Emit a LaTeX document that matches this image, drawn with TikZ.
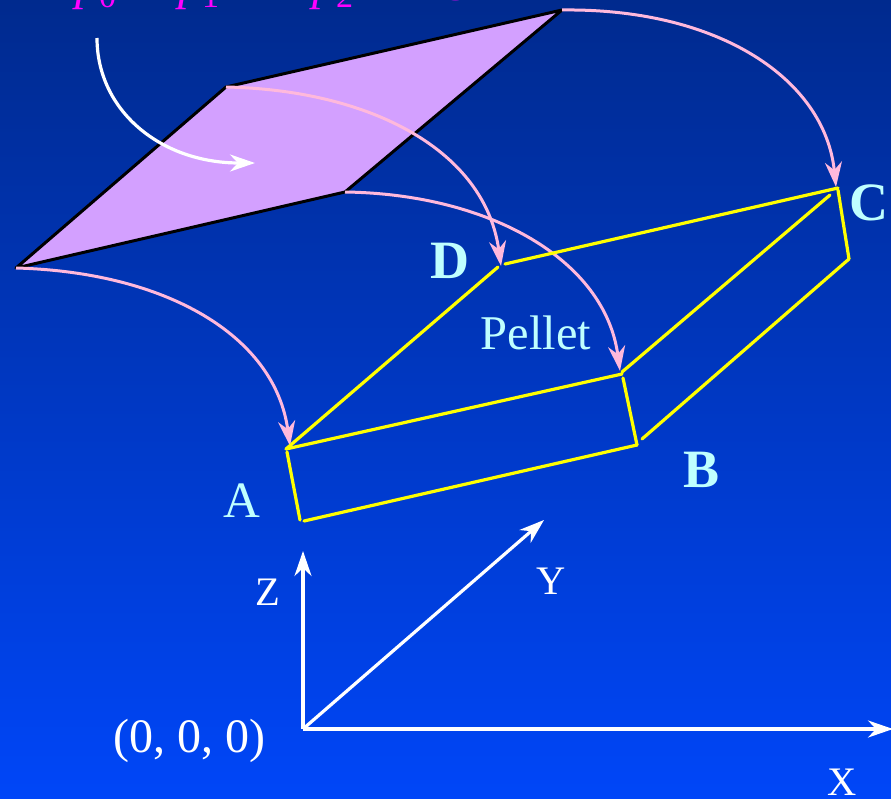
\documentclass[tikz,border=0pt]{standalone}
\usepackage{fontspec}
\setmainfont{Liberation Serif}
\usepackage{tikz}
\usetikzlibrary{arrows.meta,positioning,calc}
\usepackage{xcolor}
\definecolor{bgtop}{HTML}{002A8E}
\definecolor{bgbottom}{HTML}{0046F8}
\definecolor{platefill}{HTML}{D3A0FF}
\definecolor{pelletpink}{HTML}{FFB9DC}
\definecolor{pelletcyan}{HTML}{BFFFFF}
\definecolor{pelletyellow}{HTML}{FFFF00}
\definecolor{beammagenta}{HTML}{FF00FF}
\newcommand{\beamsub}[1]{\textit{p}\raisebox{-8pt}{\fontsize{34}{36}\selectfont #1}}
\tikzset{
  tipbig/.style={-{Stealth[length=25pt,width=17pt,inset=8pt]}},
  hitline/.style={line width=3pt,color=pelletpink,tipbig},
  edgeline/.style={line width=3.2pt,color=pelletyellow,line cap=round},
  axisline/.style={line width=3.2pt,color=white,tipbig},
  cornerlabel/.style={font=\fontsize{54}{56}\selectfont\bfseries,text=pelletcyan,inner sep=0pt},
  pelletlabel/.style={font=\fontsize{48.5}{50}\selectfont,text=pelletcyan,inner sep=0pt},
  axislabel/.style={font=\fontsize{40.5}{42}\selectfont,text=white,inner sep=0pt},
  beamlabel/.style={font=\fontsize{48}{50}\selectfont,text=beammagenta,inner sep=0pt,anchor=base west}
}
\begin{document}
\begin{tikzpicture}[x=1pt,y=-1pt]
\shade[top color=bgtop,bottom color=bgbottom] (0,0) rectangle (891,798);
\useasboundingbox (0,0) rectangle (891,798);

\coordinate (p1) at (16,268);
\coordinate (p2) at (226,87);
\coordinate (p3) at (562,10);
\coordinate (p4) at (345,192);
\coordinate (Ahit) at (290,446);
\coordinate (Dhit) at (501,266);
\coordinate (Chit) at (836,187);
\coordinate (Bhit) at (620,371);
\coordinate (At) at (286,449);
\coordinate (Bt) at (622,374);
\coordinate (Ct) at (838,188);
\coordinate (Dt) at (505,264);
\coordinate (Dr) at (498,267);
\coordinate (Br) at (622,372);
\coordinate (Cr) at (830,195);
\coordinate (Al) at (287,452);
\coordinate (Ab) at (300,520);
\coordinate (Ac) at (304,521);
\coordinate (Bb) at (637,445);
\coordinate (Bl) at (623,378);
\coordinate (Bc) at (642,439);
\coordinate (Cb) at (849,259);
\coordinate (Cl) at (838,190);
\coordinate (org) at (303,729);
\coordinate (xend) at (893,729);
\coordinate (yend) at (544,520);
\coordinate (zend) at (303,551);
\coordinate (wstart) at (97,38);
\coordinate (wend) at (255,163);

\draw[fill=platefill,draw=black,line width=3pt,line join=round] (p1) -- (p2) -- (p3) -- (p4) -- cycle;

\draw[hitline] (p3) .. controls (720,8) and (825,80) .. (Chit);
\draw[hitline] (p2) .. controls (370,90) and (485,150) .. (Dhit);
\draw[hitline] (p4) .. controls (490,194) and (605,260) .. (Bhit);
\draw[hitline] (p1) .. controls (165,272) and (275,335) .. (Ahit);
\draw[axisline] (wstart) .. controls (97,110) and (160,163) .. (wend);

\draw[edgeline] (At) -- (Bt);
\draw[edgeline] (At) -- (Dr);
\draw[edgeline] (Dt) -- (Ct);
\draw[edgeline] (Br) -- (Cr);
\draw[edgeline] (Al) -- (Ab);
\draw[edgeline] (Ac) -- (Bb);
\draw[edgeline] (Bl) -- (Bb);
\draw[edgeline] (Bc) -- (Cb);
\draw[edgeline] (Cl) -- (Cb);

\draw[axisline] (org) -- (zend);
\draw[axisline] (org) -- (xend);
\draw[axisline] (org) -- (yend);

\node[beamlabel] (beam0) at (75,-1) {\beamsub{0}};
\node[beamlabel] (beam1) at (178,-1) {\beamsub{1}};
\node[beamlabel] (beam2) at (312,-1) {\beamsub{2}};
\node[beamlabel] (beam3) at (444,-10) {g};

\node[cornerlabel,font=\fontsize{51}{53}\selectfont] (labA) at (242,501) {A};
\node[cornerlabel] (labB) at (701,470) {B};
\node[cornerlabel] (labC) at (869,203) {C};
\node[cornerlabel] (labD) at (450,261) {D};
\node[pelletlabel] (labPellet) at (536,333) {Pellet};

\node[axislabel] (labZ) at (268,592) {Z};
\node[axislabel] (labY) at (551,581) {Y};
\node[axislabel] (labX) at (842,782) {X};
\node[axislabel,font=\fontsize{48}{50}\selectfont] (labO) at (189,741) {(0, 0, 0)};
\end{tikzpicture}
\end{document}
